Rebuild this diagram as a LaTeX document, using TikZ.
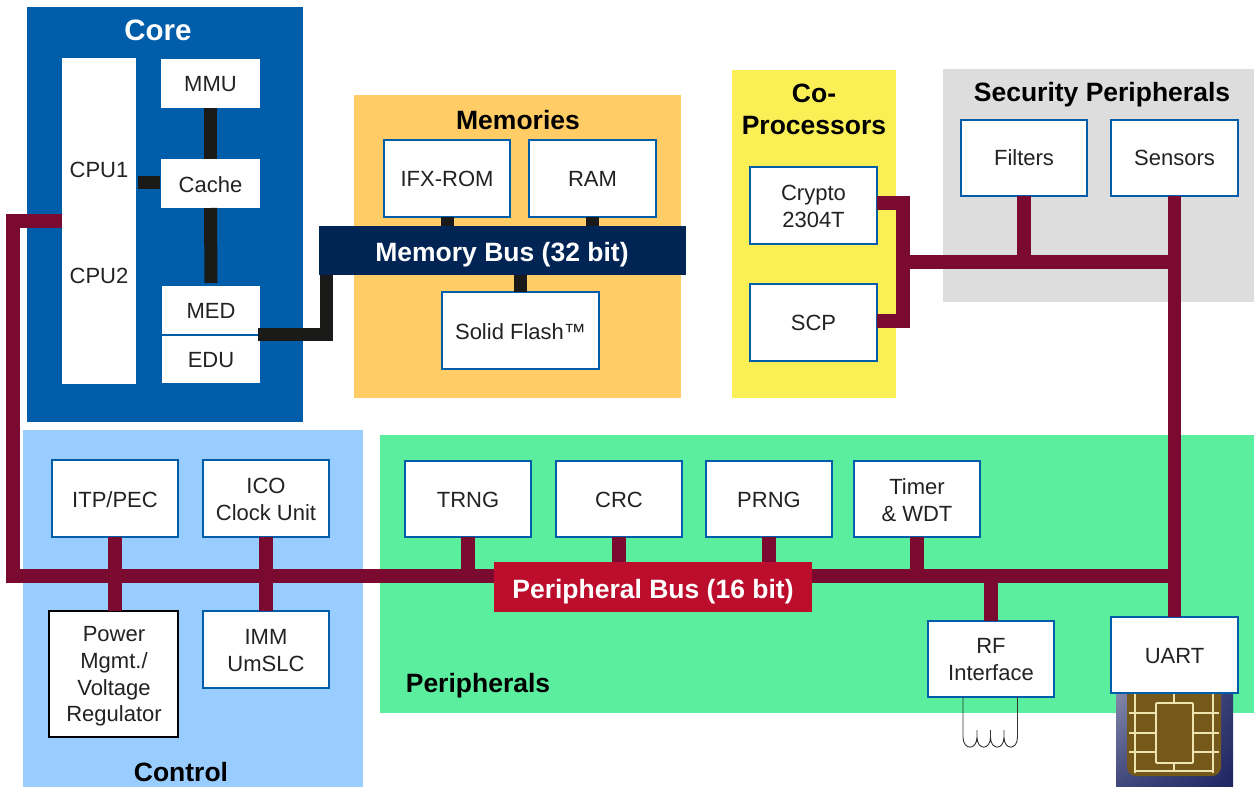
\documentclass[tikz,border=0pt]{standalone}
\usepackage{fontspec}
\usetikzlibrary{shadings}
\setmainfont{Liberation Sans}
\definecolor{corebl}{HTML}{005DAA}
\definecolor{memor}{HTML}{FFCC66}
\definecolor{copro}{HTML}{FAF055}
\definecolor{secgr}{HTML}{DDDDDD}
\definecolor{ctrlb}{HTML}{99CCFF}
\definecolor{perig}{HTML}{5AEE9E}
\definecolor{mbus}{HTML}{002454}
\definecolor{pbus}{HTML}{BD0D2D}
\definecolor{wine}{HTML}{7A0A30}
\definecolor{blk}{HTML}{1A1A18}
\definecolor{txt}{HTML}{222222}
\definecolor{chipn}{HTML}{1E2663}
\definecolor{chipg}{HTML}{74591A}
\definecolor{chipl}{HTML}{EFE4B0}
\tikzset{
  x=1pt,y=-1pt,
  panel/.style={draw=none,inner sep=0pt,outer sep=0pt},
  lbl/.style={font=\fontsize{22}{26.7}\selectfont,text=txt,align=center,inner sep=0pt},
  boxt/.style={lbl,yshift=-0.8pt},
  ttl/.style={font=\bfseries\fontsize{26.5}{32}\selectfont,text=black,align=center,inner sep=0pt},
  busl/.style={font=\bfseries\fontsize{26.5}{32}\selectfont,text=white,inner sep=0pt,outer sep=0pt,align=center},
  bluebox/.style={draw=corebl,line width=1.8pt,fill=white,outer sep=0pt,inner sep=0pt},
  corebox/.style={fill=white,outer sep=0pt,inner sep=0pt},
  blackbox/.style={draw=black,line width=1.1pt,fill=white,outer sep=0pt,inner sep=0pt},
  wline/.style={draw=wine,line width=13.6pt,line join=miter},
  kline/.style={draw=blk,line width=13pt,line join=miter},
  coil/.style={draw=black!80,line width=0.9pt}
}
% \bx[style]{name}{x1}{y1}{x2}{y2}{text}
\newcommand{\bx}[7][panel]{%
  \pgfmathsetmacro{\cxx}{(#3+#5)/2}\pgfmathsetmacro{\cyy}{(#4+#6)/2}%
  \pgfmathsetmacro{\wxx}{#5-#3}\pgfmathsetmacro{\hyy}{#6-#4}%
  \node[#1,minimum width=\wxx pt,minimum height=\hyy pt,label={[boxt]center:{#7}}] (#2) at (\cxx,\cyy) {};}
\begin{document}
\begin{tikzpicture}
\useasboundingbox (0,0) rectangle (1254,787);
% panels
\bx[panel,fill=corebl]{pcore}{27}{7}{303}{422}{}
\bx[panel,fill=memor]{pmem}{354}{95}{681}{398}{}
\bx[panel,fill=copro]{pcop}{732}{70}{896}{398}{}
\bx[panel,fill=secgr]{psec}{943}{69}{1254}{302}{}
\bx[panel,fill=ctrlb]{pctl}{23}{430}{363}{787}{}
\bx[panel,fill=perig]{pper}{380}{435}{1254}{713}{}
% titles
\node[ttl,text=white,font=\bfseries\fontsize{29.5}{32}\selectfont] (tcore) at (158,30) {Core};
\node[ttl] (tmem) at (518,120) {Memories};
\node[ttl] (tcop) at (814,109.5) {Co-\\Processors};
\node[ttl] (tsec) at (1102,95) {Security Peripherals};
\node[ttl] (tper) at (478,686) {Peripherals};
\node[ttl] (tctl) at (181,772) {Control};
% chip
\shade[upper left=chipn!55!white,upper right=chipn!90!white,lower left=chipn!85!white,lower right=chipn] (1116,693) rectangle (1233,787);
\fill[chipg,rounded corners=9pt] (1127,680) rectangle (1221,776);
\draw[chipl,line width=1.5pt] (1135,693) -- (1135,773) (1213,693) -- (1213,773)
  (1129,713) -- (1156,713) (1193,713) -- (1219,713)
  (1129,733) -- (1156,733) (1193,733) -- (1219,733)
  (1129,752) -- (1156,752) (1193,752) -- (1219,752)
  (1174,693) -- (1174,703) (1174,763) -- (1174,771)
  (1135,771) -- (1213,771);
\draw[chipl,line width=1.8pt,rounded corners=1pt] (1156,703) rectangle (1193,763);
% core
\bx[corebox]{cpu}{62}{58}{136}{384}{}
\node[lbl] (cpua) at (99,170) {CPU1};
\node[lbl] (cpub) at (99,276) {CPU2};
\bx[corebox]{mmu}{161}{59}{260}{108}{MMU}
\bx[corebox]{cache}{161}{159}{260}{208}{Cache}
\bx[corebox]{med}{162}{286}{260}{334}{MED}
\bx[corebox]{edu}{162}{336}{260}{383}{EDU}
% memories
\bx[bluebox]{ifx}{384}{140}{510}{217}{IFX-ROM}
\bx[bluebox]{ram}{529}{140}{656}{217}{RAM}
\bx[bluebox]{flash}{442}{292}{599}{369}{Solid Flash™}
\bx[panel,fill=mbus]{mb}{319}{226}{686}{275}{}
\node[busl] (mbt) at (502,255) {Memory Bus (32 bit)};
% coprocessors
\bx[bluebox]{crypto}{750}{167}{877}{244}{Crypto\\2304T}
\bx[bluebox]{scp}{750}{284}{877}{361}{SCP}
% security
\bx[bluebox]{filters}{961}{120}{1087}{196}{}
\node[lbl] (filt) at (1024,158) {Filters};
\bx[bluebox]{sensors}{1111}{120}{1238}{196}{}
\node[lbl] (sent) at (1174.5,158) {Sensors};
% control
\bx[bluebox]{itp}{52}{460}{178}{537}{ITP/PEC}
\bx[bluebox]{ico}{203}{460}{329}{537}{ICO\\Clock Unit}
\bx[blackbox]{pm}{49}{611}{178}{737}{}
\node[lbl] (pmt) at (114,676.5) {Power\\Mgmt./\\Voltage\\Regulator};
\bx[bluebox]{imm}{203}{611}{329}{688}{IMM\\UmSLC}
% peripherals
\bx[bluebox]{trng}{405}{461}{531}{537}{TRNG}
\bx[bluebox]{crc}{556}{461}{682}{537}{CRC}
\bx[bluebox]{prng}{706}{461}{832}{537}{PRNG}
\bx[bluebox]{timer}{854}{461}{980}{537}{Timer\\\& WDT}
\bx[bluebox]{rf}{928}{621}{1054}{697}{RF\\Interface}
\bx[bluebox]{uart}{1111}{617}{1238}{693}{UART}
\bx[panel,fill=pbus]{pb}{494}{562}{812}{612}{}
\node[busl] (pbt) at (653,592) {Peripheral Bus (16 bit)};
% coordinates
\coordinate (cpul) at (62,221);
\coordinate (cornA) at (13,221);
\coordinate (cornB) at (13,576);
\coordinate (pbl) at (494,576);
\coordinate (pbr) at (812,576);
\coordinate (jsec) at (1174,262);
\coordinate (jcop) at (903,262);
\coordinate (cra) at (903,203);
\coordinate (crb) at (903,321);
\coordinate (crye) at (877,203);
\coordinate (scpe) at (877,321);
\coordinate (medr) at (258,334.5);
\coordinate (medc) at (326,334.5);
\coordinate (cpur) at (138,182.5);
\coordinate (cachel) at (160,182.5);
\coordinate (medtop) at (211,283);
% wine connectors
\draw[wline] (cpul) -- (cornA) -- (cornB) -- (pbl);
\draw[wline] (pbr) -- (pbr -| sensors.south);
\draw[wline] (sensors.south) -- (uart.north);
\draw[wline] (crye) -- (cra) -- (crb) -- (scpe);
\draw[wline] (jcop) -- (jsec);
\draw[wline] (filters.south) -- (filters.south |- jsec);
\draw[wline] (itp.south) -- (itp.south |- pm.north);
\draw[wline] (ico.south) -- (imm.north);
\draw[wline] (trng.south) -- (trng.south |- pbl);
\draw[wline] (crc.south) -- (crc.south |- pb.north);
\draw[wline] (prng.south) -- (prng.south |- pb.north);
\draw[wline] (timer.south) -- (timer.south |- pbr);
\draw[wline] (rf.north) -- (rf.north |- pbr);
% black connectors
\draw[kline] (cpur) -- (cachel);
\draw[kline] (mmu.south) -- (cache.north);
\draw[kline] (cache.south) -- (medtop);
\draw[kline] (medr) -- (medc) -- (medc |- mb.south);
\draw[kline] (ifx.south) -- (ifx.south |- mb.north);
\draw[kline] (ram.south) -- (ram.south |- mb.north);
\draw[kline] (flash.north) -- (flash.north |- mb.south);
% coil
\coordinate (coa) at (963,697);
\coordinate (cob) at (1017.5,697);
\draw[coil] (coa) -- (963,737) .. controls (963,750.5) and (977,750.5) .. (977,737) -- (977,730) -- (977,737)
  .. controls (977,750.5) and (990.5,750.5) .. (990.5,737) -- (990.5,730) -- (990.5,737)
  .. controls (990.5,750.5) and (1004,750.5) .. (1004,737) -- (1004,730) -- (1004,737)
  .. controls (1004,750.5) and (1017.5,750.5) .. (1017.5,737) -- (cob);
\end{tikzpicture}
\end{document}
